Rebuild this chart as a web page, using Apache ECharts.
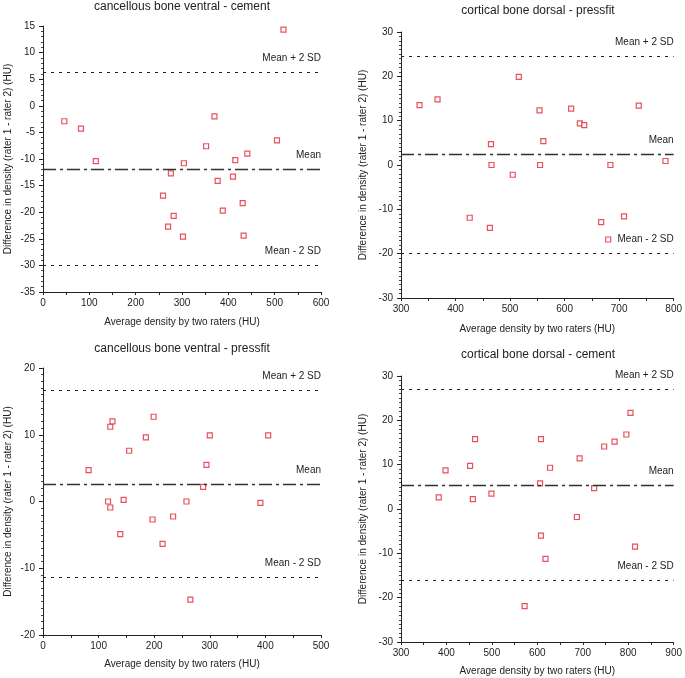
<!DOCTYPE html>
<html>
<head>
<meta charset="utf-8">
<script src="https://cdn.jsdelivr.net/npm/echarts@6/dist/echarts.min.js"></script>
<style>
html,body{margin:0;padding:0;background:#fff;}
#chart{width:685px;height:678px;}
</style>
</head>
<body>
<div id="chart"></div>
<script>
// Panel titles
var titles = [
  'cancellous bone ventral - cement',
  'cortical bone dorsal - pressfit',
  'cancellous bone ventral - pressfit',
  'cortical bone dorsal - cement'
];
var xName = 'Average density by two raters (HU)';
var yName = 'Difference in density (rater 1 - rater 2) (HU)';
var limitLabels = ['Mean + 2 SD', 'Mean', 'Mean - 2 SD'];

// Panel 1: cancellous bone ventral - cement
var avg1 = [46, 82, 114, 304, 352, 370, 415, 441, 505, 519, 276, 377, 410, 259, 431, 388, 282, 270, 302, 433];
var diff1 = [-2.9, -4.3, -10.4, -10.8, -7.6, -2.0, -10.2, -9.0, -6.5, 14.3, -12.7, -14.1, -13.3, -16.9, -18.3, -19.7, -20.7, -22.7, -24.6, -24.4];
var limits1 = [6.3, -11.85, -30.0];

// Panel 2: cortical bone dorsal - pressfit
var avg2 = [334, 367, 516, 554, 612, 736, 628, 636, 465, 561, 466, 555, 684, 785, 505, 426, 463, 667, 709, 680];
var diff2 = [13.5, 14.8, 19.9, 12.3, 12.7, 13.4, 9.4, 9.0, 4.7, 5.4, 0, 0, 0, 0.9, -2.2, -11.9, -14.2, -12.9, -11.6, -16.8];
var limits2 = [24.6, 2.4, -19.85];

// Panel 3: cancellous bone ventral - pressfit
var avg3 = [82, 121, 125, 155, 185, 199, 300, 294, 288, 405, 117, 121, 145, 258, 391, 197, 234, 139, 215, 265];
var diff3 = [4.7, 11.2, 12.0, 7.6, 9.6, 12.7, 9.9, 5.5, 2.2, 9.9, 0, -0.9, 0.25, 0, -0.2, -2.7, -2.25, -4.9, -6.35, -14.7];
var limits3 = [16.7, 2.65, -11.3];

// Panel 4: cortical bone dorsal - cement
var avg4 = [383, 398, 452, 463, 458, 499, 608, 606, 628, 693, 725, 747, 770, 796, 805, 687, 608, 618, 815, 572];
var diff4 = [2.6, 8.7, 9.75, 15.75, 2.25, 3.45, 15.75, 5.8, 9.3, 11.4, 4.7, 14.1, 15.2, 16.8, 21.7, -1.8, -6.0, -11.25, -8.5, -21.9];
var limits4 = [27.0, 5.35, -16.05];

// Axis ranges: [min, max, interval, minorSplit]
var xRanges = [[0, 600, 100, 2], [300, 800, 100, 2], [0, 500, 100, 2], [300, 900, 100, 2]];
var yRanges = [[-35, 15, 5, 5], [-30, 30, 10, 10], [-20, 20, 10, 10], [-30, 30, 10, 10]];

var avgs = [avg1, avg2, avg3, avg4];
var diffs = [diff1, diff2, diff3, diff4];
var limits = [limits1, limits2, limits3, limits4];

// Layout (pixels)
var grids = [
  {left: 43, top: 26, width: 278, height: 266},
  {left: 401, top: 32, width: 276, height: 266},
  {left: 43, top: 368, width: 278, height: 267},
  {left: 401, top: 376, width: 276, height: 266}
];
var titlePos = [[182, 1], [538, 5], [182, 343], [538, 349]];
var xNameGap = [25, 26, 24, 24];
var yNameGap = [30, 33, 30, 33];

var txt = '#222';
var font = 'Liberation Sans, Arial, sans-serif';

var option = {
  animation: false,
  backgroundColor: '#fff',
  title: titles.map(function (t, i) {
    return {
      text: t, left: titlePos[i][0], top: titlePos[i][1], textAlign: 'center', padding: 0,
      textStyle: {fontSize: 12, fontWeight: 'normal', color: txt, fontFamily: font}
    };
  }),
  grid: grids,
  xAxis: xRanges.map(function (r, i) {
    return {
      type: 'value', gridIndex: i, min: r[0], max: r[1], interval: r[2],
      name: xName, nameLocation: 'middle', nameGap: xNameGap[i],
      nameTextStyle: {fontSize: 10, color: txt, fontFamily: font},
      axisLine: {show: true, onZero: false, lineStyle: {color: '#222', width: 1}},
      axisTick: {show: true, length: 3, lineStyle: {color: '#222'}},
      minorTick: {show: true, splitNumber: r[3], length: 3, lineStyle: {color: '#222'}},
      axisLabel: {fontSize: 10, color: txt, fontFamily: font, margin: 6},
      splitLine: {show: false}
    };
  }),
  yAxis: yRanges.map(function (r, i) {
    return {
      type: 'value', gridIndex: i, min: r[0], max: r[1], interval: r[2],
      name: yName, nameLocation: 'middle', nameGap: yNameGap[i],
      nameTextStyle: {fontSize: 10, color: txt, fontFamily: font},
      axisLine: {show: true, onZero: false, lineStyle: {color: '#222', width: 1}},
      axisTick: {show: true, length: 4, lineStyle: {color: '#222'}},
      minorTick: {show: true, splitNumber: r[3], length: 2, lineStyle: {color: '#444'}},
      axisLabel: {fontSize: 10, color: txt, fontFamily: font, margin: 8},
      splitLine: {show: false}
    };
  }),
  series: avgs.map(function (a, i) {
    var lim = limits[i];
    return {
      type: 'scatter', xAxisIndex: i, yAxisIndex: i,
      data: a.map(function (x, j) { return [x, diffs[i][j]]; }),
      symbol: 'rect', symbolSize: 5,
      itemStyle: {color: '#fff', borderColor: '#e02535', borderWidth: 1.2},
      markLine: {
        silent: true, symbol: 'none', animation: false,
        data: [
          {yAxis: lim[0], lineStyle: {type: [3, 5], color: '#222', width: 1},
            label: {formatter: limitLabels[0]}},
          {yAxis: lim[1], lineStyle: {type: [13, 4, 3, 4], color: '#333', width: 1.3},
            label: {formatter: limitLabels[1]}},
          {yAxis: lim[2], lineStyle: {type: [3, 5], color: '#222', width: 1},
            label: {formatter: limitLabels[2]}}
        ],
        label: {position: 'insideEndTop', distance: [0, 9], fontSize: 10, color: txt, fontFamily: font}
      }
    };
  })
};

var chart = echarts.init(document.getElementById('chart'), null, {renderer: 'canvas'});
chart.setOption(option);
</script>
</body>
</html>
